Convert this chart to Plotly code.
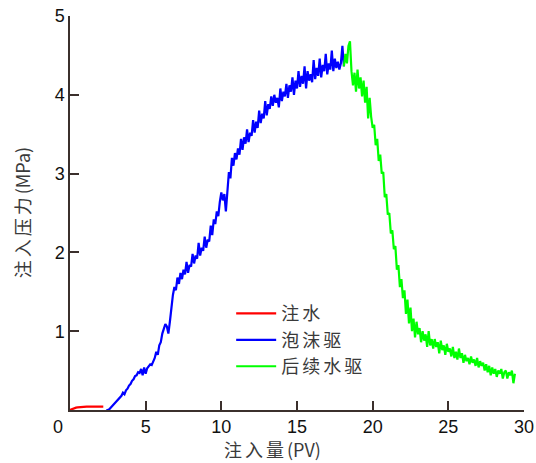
import numpy as np
import plotly.graph_objects as go

# Injection pressure logged every 0.1 PV
STEP = 0.1

water_start = 0.0
water_p = [0.00, 0.01, 0.02, 0.025, 0.03, 0.033, 0.036, 0.038, 0.04, 0.041,
           0.042, 0.043, 0.044, 0.045, 0.045, 0.046, 0.046, 0.046, 0.046, 0.045,
           0.045, 0.044, 0.044]

foam_start = 2.4
foam_p = [0.00, 0.00, 0.01, 0.03, 0.05, 0.07, 0.09, 0.11, 0.13, 0.16,
          0.18, 0.22, 0.20, 0.25, 0.27, 0.31, 0.33, 0.37, 0.39, 0.43,
          0.44, 0.48, 0.47, 0.52, 0.44, 0.54, 0.46, 0.53, 0.55, 0.58,
          0.57, 0.62, 0.66, 0.74, 0.70, 0.82, 0.86, 0.97, 1.02, 1.09,
          1.06, 0.97, 1.12, 1.32, 1.46, 1.56, 1.52, 1.68, 1.60, 1.74,
          1.66, 1.78, 1.72, 1.88, 1.74, 1.84, 1.82, 1.98, 1.86, 1.96,
          1.92, 2.12, 1.96, 2.06, 2.02, 2.20, 2.06, 2.16, 2.14, 2.34,
          2.22, 2.42, 2.36, 2.52, 2.46, 2.64, 2.76, 2.66, 2.74, 2.52,
          2.84, 3.02, 2.94, 3.20, 3.10, 3.26, 3.18, 3.32, 3.24, 3.44,
          3.30, 3.46, 3.38, 3.56, 3.40, 3.52, 3.48, 3.68, 3.52, 3.66,
          3.58, 3.80, 3.64, 3.76, 3.70, 3.92, 3.74, 3.88, 3.82, 3.98,
          3.86, 4.00, 3.90, 3.96, 3.84, 4.08, 3.92, 4.04, 3.98, 4.14,
          3.96, 4.12, 4.04, 4.22, 4.00, 4.18, 4.08, 4.30, 4.10, 4.24,
          4.14, 4.36, 4.08, 4.30, 4.18, 4.26, 4.16, 4.44, 4.20, 4.34,
          4.24, 4.46, 4.22, 4.38, 4.30, 4.52, 4.26, 4.40, 4.32, 4.56,
          4.30, 4.46, 4.34, 4.42, 4.32, 4.40, 4.62, 4.36]

chase_start = 18.1
chase_p = [4.36, 4.52, 4.40, 4.62, 4.68, 4.30, 4.12, 4.28, 4.04, 4.32,
           4.08, 4.22, 3.98, 4.18, 3.90, 4.10, 3.70, 3.96, 3.72, 3.58,
           3.62, 3.36, 3.44, 3.16, 3.24, 3.00, 3.02, 2.70, 2.74, 2.48,
           2.50, 2.24, 2.28, 2.04, 2.08, 1.78, 1.84, 1.56, 1.66, 1.42,
           1.52, 1.22, 1.40, 1.10, 1.30, 1.00, 1.16, 0.92, 1.12, 0.96,
           1.04, 0.86, 1.00, 0.88, 0.96, 0.80, 1.00, 0.82, 0.90, 0.78,
           0.90, 0.80, 0.86, 0.72, 0.88, 0.76, 0.82, 0.70, 0.84, 0.74,
           0.78, 0.68, 0.80, 0.66, 0.74, 0.64, 0.78, 0.66, 0.72, 0.60,
           0.70, 0.62, 0.66, 0.58, 0.68, 0.60, 0.64, 0.56, 0.66, 0.54,
           0.62, 0.56, 0.60, 0.50, 0.58, 0.48, 0.56, 0.44, 0.54, 0.46,
           0.52, 0.42, 0.50, 0.46, 0.52, 0.40, 0.48, 0.50, 0.40, 0.48,
           0.44, 0.50, 0.34, 0.46]

series_names = ["注水", "泡沫驱", "后续水驱"]
series_colors = ["#ff0000", "#0000ff", "#00ff00"]

x_ticks = [5, 10, 15, 20, 25, 30]
y_ticks = [1, 2, 3, 4, 5]


def pv_axis(start, values):
    return np.round(start + STEP * np.arange(len(values)), 2)


NUM_FONT = dict(family="Liberation Sans", size=18, color="#111")
CJK = "Noto Sans CJK SC"
AXIS_COLOR = "#3b302c"
TEXT_GREY = "#3a3a3a"

fig = go.Figure()
for name, color, start, vals in zip(series_names, series_colors,
                                    [water_start, foam_start, chase_start],
                                    [water_p, foam_p, chase_p]):
    fig.add_trace(go.Scatter(
        x=pv_axis(start, vals), y=vals, mode="lines",
        name=f'<span style="letter-spacing:3px">{name}</span>',
        line=dict(color=color, width=2.2),
    ))

axis_common = dict(
    showline=True, linecolor=AXIS_COLOR, linewidth=1.5,
    ticks="inside", ticklen=9, tickwidth=1.5, tickcolor=AXIS_COLOR,
    showgrid=False, zeroline=False, mirror=False, automargin=False,
    tickfont=NUM_FONT,
)

fig.update_layout(
    width=536, height=463,
    margin=dict(l=70, r=12, t=16, b=53),
    paper_bgcolor="white", plot_bgcolor="white",
    xaxis=dict(range=[0, 30], tickvals=x_ticks, **axis_common),
    yaxis=dict(range=[0, 5], tickvals=y_ticks, **axis_common),
    legend=dict(
        x=0.355, y=0.177, xanchor="left", yanchor="middle",
        font=dict(family=CJK, size=18, color=TEXT_GREY),
        bgcolor="rgba(0,0,0,0)", tracegroupgap=0, itemwidth=40,
    ),
    showlegend=True,
)

# Shared origin label
fig.add_annotation(x=0, y=0, xref="x", yref="y", text="0", showarrow=False,
                   xshift=-12, yshift=-17, yanchor="middle", font=NUM_FONT)

fig.add_annotation(
    x=(272 - 70) / (536 - 82), y=-0.098, xref="paper", yref="paper",
    text='<span style="letter-spacing:3px">注入量</span>(PV)',
    showarrow=False, xanchor="center", yanchor="middle",
    font=dict(family=CJK, size=18, color=TEXT_GREY),
)
fig.add_annotation(
    x=-0.105, y=0.5, xref="paper", yref="paper",
    text='<span style="letter-spacing:3px">注入压力</span>(MPa)',
    showarrow=False, textangle=-90, xanchor="center", yanchor="middle",
    font=dict(family=CJK, size=18, color=TEXT_GREY),
)

fig.write_html("out.html")
